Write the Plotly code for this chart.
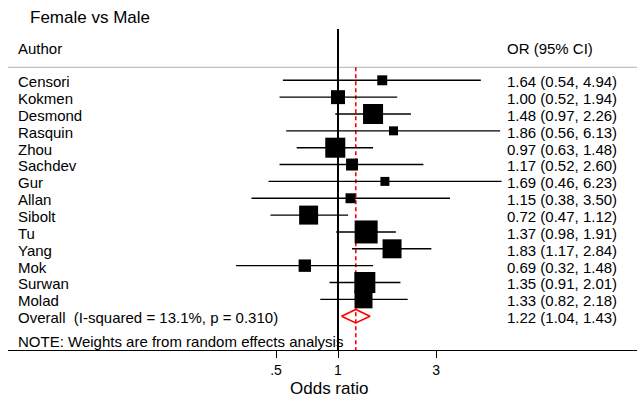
import plotly.graph_objects as go

# ---- data ----
authors = ["Censori", "Kokmen", "Desmond", "Rasquin", "Zhou", "Sachdev", "Gur",
           "Allan", "Sibolt", "Tu", "Yang", "Mok", "Surwan", "Molad"]
or_vals = [1.64, 1.00, 1.48, 1.86, 0.97, 1.17, 1.69, 1.15, 0.72, 1.37, 1.83, 0.69, 1.35, 1.33]
lo_vals = [0.54, 0.52, 0.97, 0.56, 0.63, 0.52, 0.46, 0.38, 0.47, 0.98, 1.17, 0.32, 0.91, 0.82]
hi_vals = [4.94, 1.94, 2.26, 6.13, 1.48, 2.60, 6.23, 3.50, 1.12, 1.91, 2.84, 1.48, 2.01, 2.18]
weights = [2.7, 5.3, 10.9, 2.2, 10.9, 3.9, 2.2, 2.7, 9.8, 14.4, 9.8, 4.2, 12.0, 8.8]  # % (est.)
overall_label = "Overall  (I-squared = 13.1%, p = 0.310)"
overall_or, overall_lo, overall_hi = 1.22, 1.04, 1.43
tick_vals = [0.5, 1, 3]
tick_text = [".5", "1", "3"]

# ---- layout helpers ----
W, H = 637, 402
ML, MR, MT, MB = 8, 0, 0, 52
PW = W - ML - MR
PH = H - MT - MB
ROW0_PX, ROW_PX = 80.3, 16.85


def row(px):
    return (px - ROW0_PX) / ROW_PX


def xp(px):
    return (px - ML) / PW


FONT = "Liberation Sans, Arial, Helvetica, sans-serif"
n = len(authors)
ys = list(range(n))
y_over = n

fig = go.Figure()

# red dashed overall line
fig.add_trace(go.Scatter(x=[overall_or, overall_or], y=[row(67.3), row(350)], mode="lines",
                         line=dict(color="#ff0000", width=1.6, dash="4px,3px"),
                         hoverinfo="skip", showlegend=False))
# null line
fig.add_trace(go.Scatter(x=[1, 1], y=[row(29), row(350)], mode="lines",
                         line=dict(color="black", width=2), hoverinfo="skip", showlegend=False))
# CI lines
cx, cy = [], []
for lo, hi, y in zip(lo_vals, hi_vals, ys):
    cx += [lo, hi, None]
    cy += [y, y, None]
fig.add_trace(go.Scatter(x=cx, y=cy, mode="lines", line=dict(color="black", width=1.4),
                         hoverinfo="skip", showlegend=False))
# weight boxes
k = 23 / (14.4 ** 0.5)
sizes = [k * w ** 0.5 for w in weights]
fig.add_trace(go.Scatter(x=or_vals, y=ys, mode="markers",
                         marker=dict(symbol="square", size=sizes, color="black", opacity=1,
                                     line=dict(width=0)),
                         showlegend=False))
# overall diamond
hh = 0.4
fig.add_trace(go.Scatter(x=[overall_lo, overall_or, overall_hi, overall_or, overall_lo],
                         y=[y_over, y_over - hh, y_over, y_over + hh, y_over], mode="lines",
                         line=dict(color="#ff0000", width=1.6), showlegend=False, hoverinfo="skip"))

ann = []


def txt(x, y, s, size=15, xref="paper", yref="y", xanchor="left"):
    ann.append(dict(x=x, y=y, xref=xref, yref=yref, text=s, showarrow=False,
                    xanchor=xanchor, yanchor="middle", font=dict(size=size, color="black", family=FONT)))


for a, o, lo, hi, y in zip(authors, or_vals, lo_vals, hi_vals, ys):
    txt(xp(16), y + 0.08, a)
    txt(xp(505), y + 0.08, f"{o:.2f} ({lo:.2f}, {hi:.2f})")
txt(xp(16), y_over + 0.08, overall_label)
txt(xp(505), y_over + 0.08, f"{overall_or:.2f} ({overall_lo:.2f}, {overall_hi:.2f})")
txt(xp(16), row(48), "Author")
txt(xp(505), row(48), "OR (95% CI)")
txt(xp(28), row(17), "Female vs Male", size=17)
txt(xp(16), row(341), "NOTE: Weights are from random effects analysis")
ann.append(dict(x=xp(329), y=(PH - (388 - MT)) / PH, xref="paper", yref="paper",
                text="Odds ratio", showarrow=False, xanchor="center", yanchor="middle",
                font=dict(size=17, color="black", family=FONT)))

lx0 = (ML - 338) / 205.9
lx1 = (W - MR - 338) / 205.9

fig.update_layout(
    width=W, height=H,
    margin=dict(l=ML, r=MR, t=MT, b=MB),
    paper_bgcolor="white", plot_bgcolor="white",
    annotations=ann,
    shapes=[dict(type="line", xref="paper", yref="y", x0=0, x1=1, y0=row(67.3), y1=row(67.3),
                 line=dict(color="#c0c0c0", width=1.2), layer="below")],
    xaxis=dict(type="log", range=[lx0, lx1], showgrid=False, zeroline=False,
               showline=True, linecolor="black", linewidth=1.4,
               ticks="outside", ticklen=7, tickwidth=1.4, tickcolor="black",
               tickvals=tick_vals, ticktext=tick_text,
               tickfont=dict(size=14, color="black", family=FONT)),
    yaxis=dict(range=[row(350), row(0)], visible=False, showgrid=False, zeroline=False),
    showlegend=False,
)

fig.write_html("out.html", config={"displayModeBar": False},
               post_script="document.body.style.margin='0';")
